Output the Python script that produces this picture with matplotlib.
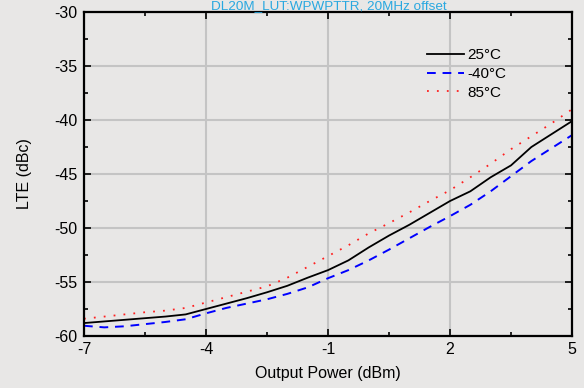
import numpy as np
import matplotlib
matplotlib.use("Agg")
import matplotlib.pyplot as plt
from matplotlib.ticker import MultipleLocator

plt.rcParams['font.family'] = ['Liberation Sans', 'DejaVu Sans']
plt.rcParams['axes.unicode_minus'] = False

# output power sweep (dBm) and LTE ACLR at 20MHz offset (dBc)
power = np.arange(-7, 5.01, 0.5)
lte_25c = [-58.8, -58.65, -58.5, -58.35, -58.2, -58.0, -57.5, -57.0, -56.5,
           -55.95, -55.35, -54.6, -53.9, -53.0, -51.8, -50.7, -49.7, -48.6,
           -47.5, -46.6, -45.3, -44.2, -42.5, -41.3, -40.1]
lte_m40c = [-59.05, -59.2, -59.1, -58.9, -58.7, -58.45, -57.9, -57.4, -57.0,
            -56.6, -56.1, -55.5, -54.65, -53.9, -53.0, -52.0, -50.95, -49.9,
            -48.9, -47.85, -46.6, -45.2, -43.8, -42.6, -41.4]
lte_85c = [-58.4, -58.2, -58.0, -57.8, -57.65, -57.4, -56.9, -56.4, -55.9,
           -55.4, -54.6, -53.6, -52.6, -51.6, -50.5, -49.55, -48.55, -47.5,
           -46.5, -45.3, -44.05, -42.7, -41.5, -40.3, -39.0]
labels = ['25°C', '-40°C', '85°C']
xticks = [-7, -4, -1, 2, 5]
xminor = [-5.5, -2.5, 0.5, 3.5]
title = 'DL20M_LUT:WPWPTTR, 20MHz offset'

bg = '#e8e7e6'
fig = plt.figure(figsize=(5.84, 3.88), dpi=100, facecolor=bg)
ax = fig.add_axes([0.1438, 0.134, 0.8357, 0.835], facecolor=bg)

ax.plot(power, lte_25c, color='black', lw=1.3, label=labels[0])
ax.plot(power, lte_m40c, color='#0000ff', lw=1.4, dashes=(4.5, 3.5), label=labels[1])
ax.plot(power, lte_85c, color='#ff2020', lw=1.3, dashes=(1, 4.5), label=labels[2])

ax.set_xlim(-7, 5)
ax.set_ylim(-60, -30)
ax.set_xticks(xticks)
ax.set_xticks(xminor, minor=True)
ax.yaxis.set_major_locator(MultipleLocator(5))
ax.yaxis.set_minor_locator(MultipleLocator(2.5))
ax.tick_params(which='both', direction='in', top=True, right=True,
               labelsize=11.5, color='black')
ax.tick_params(which='major', length=5, width=1.2)
ax.tick_params(which='minor', length=3, width=1.2)
ax.tick_params(axis='x', pad=4.5)
ax.tick_params(axis='y', pad=5)
ax.grid(True, which='major', color='#c4c4c4', lw=1.5)
ax.set_axisbelow(True)
for s in ax.spines.values():
    s.set_linewidth(1.6)

ax.set_xlabel('Output Power (dBm)', fontsize=11.5, labelpad=6)
ax.set_ylabel('LTE (dBc)', fontsize=11.5, labelpad=16)

ax.legend(loc='upper left', bbox_to_anchor=(0.675, 0.93), frameon=False,
          fontsize=11, handlelength=2.4, handletextpad=0.25, labelspacing=0.3)

fig.text(0.563, 1.0, title, color='#29a8e0', fontsize=9.7, ha='center', va='top')

fig.savefig('out.png', dpi=100, facecolor=bg)
